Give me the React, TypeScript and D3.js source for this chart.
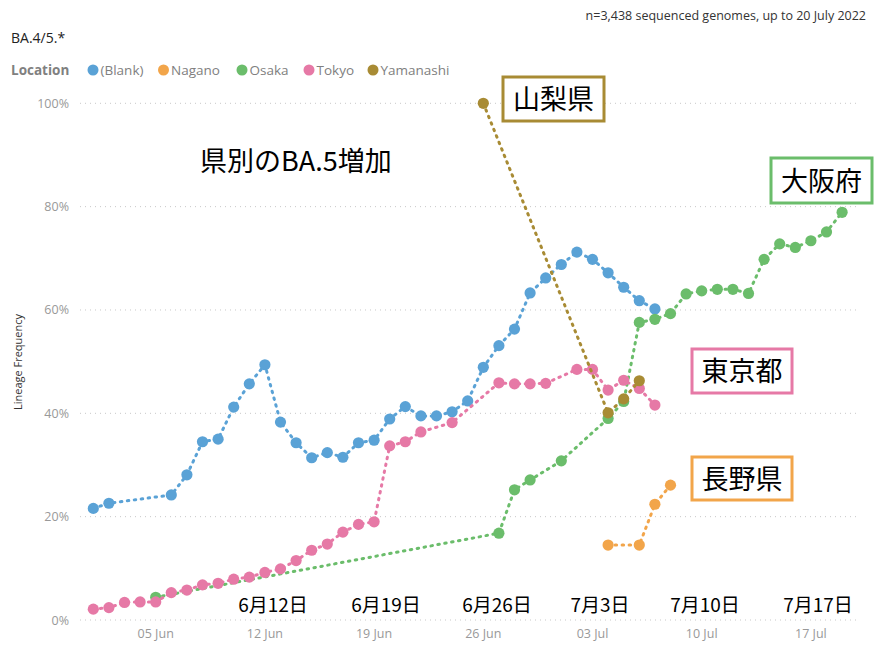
import React from 'react';
import * as d3 from 'd3';

// ---- data ----
const blankDates = ['06-01','06-02','06-06','06-07','06-08','06-09','06-10','06-11','06-12','06-13','06-14','06-15','06-16','06-17','06-18','06-19','06-20','06-21','06-22','06-23','06-24','06-25','06-26','06-27','06-28','06-29','06-30','07-01','07-02','07-03','07-04','07-05','07-06','07-07'];
const blankValues = [21.6,22.6,24.2,28.1,34.5,35.0,41.2,45.7,49.4,38.3,34.3,31.4,32.4,31.5,34.3,34.8,38.9,41.3,39.5,39.5,40.3,42.4,48.9,53.1,56.3,63.3,66.2,68.8,71.2,69.8,67.2,64.4,61.8,60.2];

const naganoDates = ['07-04','07-06','07-07','07-08'];
const naganoValues = [14.5,14.5,22.4,26.1];

const osakaDates = ['06-05','06-27','06-28','06-29','07-01','07-04','07-05','07-06','07-07','07-08','07-09','07-10','07-11','07-12','07-13','07-14','07-15','07-16','07-17','07-18','07-19'];
const osakaValues = [4.4,16.8,25.2,27.1,30.8,39.0,42.3,57.6,58.2,59.3,63.1,63.7,64.0,64.0,63.2,69.8,72.8,72.1,73.4,75.1,78.9];

const tokyoDates = ['06-01','06-02','06-03','06-04','06-05','06-06','06-07','06-08','06-09','06-10','06-11','06-12','06-13','06-14','06-15','06-16','06-17','06-18','06-19','06-20','06-21','06-22','06-24','06-27','06-28','06-29','06-30','07-02','07-03','07-04','07-05','07-06','07-07'];
const tokyoValues = [2.1,2.4,3.4,3.5,3.5,5.3,5.8,6.8,7.1,7.9,8.3,9.2,9.9,11.5,13.5,14.7,17.0,18.5,19.0,33.7,34.5,36.4,38.2,45.9,45.7,45.7,45.8,48.5,48.5,44.5,46.4,44.8,41.6];

const yamanashiDates = ['06-26','07-04','07-05','07-06'];
const yamanashiValues = [100,40.1,42.8,46.3];

const seriesNames = ['(Blank)','Nagano','Osaka','Tokyo','Yamanashi'];
const seriesColors = ['#5aa2d6','#f2a54a','#6bbd6b','#e679a6','#a88b34'];

const xTickDates = ['06-05','06-12','06-19','06-26','07-03','07-10','07-17'];
const yTicks = [0,20,40,60,80,100];

const dateLabels = ['6月12日','6月19日','6月26日','7月3日','7月10日','7月17日'];

const parse = (s: string) => new Date(`2022-${s}T00:00:00`);
const fmt = d3.timeFormat('%d %b');

const W = 889;
const H = 660;

export default function App() {
  const x = d3.scaleTime()
    .domain([parse('06-01'), parse('07-19')])
    .range([93.3, 842.1]);
  const y = d3.scaleLinear().domain([0, 100]).range([620, 103.3]);

  const series = [
    { dates: blankDates, values: blankValues },
    { dates: naganoDates, values: naganoValues },
    { dates: osakaDates, values: osakaValues },
    { dates: tokyoDates, values: tokyoValues },
    { dates: yamanashiDates, values: yamanashiValues },
  ].map((s, i) => ({
    name: seriesNames[i],
    color: seriesColors[i],
    points: s.dates.map((d, j) => ({ date: parse(d), value: s.values[j] })),
  }));

  const line = d3.line<{ date: Date; value: number }>()
    .x(d => x(d.date))
    .y(d => y(d.value));

  const sans = '"Open Sans", "Noto Sans", sans-serif';
  const jp = '"Noto Sans CJK JP", sans-serif';

  // legend layout
  const legendX = [93, 163.5, 242, 309, 373];

  // annotation boxes [label, color, x, y, w, h]
  const boxes: [string, string, number, number, number, number][] = [
    ['山梨県', seriesColors[4], 503, 77, 101, 44],
    ['大阪府', seriesColors[2], 771, 158, 101, 45],
    ['東京都', seriesColors[3], 692, 349, 100, 44],
    ['長野県', seriesColors[1], 692, 457, 100, 43],
  ];
  const dateLabelX = [273, 386, 497, 600, 705, 818];

  return (
    <svg width={W} height={H} style={{ position: 'absolute', left: 0, top: 0, background: '#fff' }}>
      <text x={866} y={20} textAnchor="end" fontFamily={sans} fontSize={12.5} fill="#333">
        n=3,438 sequenced genomes, up to 20 July 2022
      </text>
      <text x={11} y={43} fontFamily={sans} fontSize={14} fill="#222">BA.4/5.*</text>

      <text x={11} y={75} fontFamily={sans} fontSize={13.5} fontWeight="bold" fill="#808080">Location</text>
      {series.map((s, i) => (
        <g key={s.name}>
          <circle cx={legendX[i]} cy={70} r={5.5} fill={s.color} />
          <text x={legendX[i] + 7.5} y={75} fontFamily={sans} fontSize={13.5} fill="#808080">{s.name}</text>
        </g>
      ))}

      {/* grid + y axis */}
      {yTicks.map(t => (
        <g key={t}>
          <line x1={80} x2={860} y1={y(t)} y2={y(t)} stroke="#c8c8c8" strokeWidth={1} strokeDasharray="1 4" />
          <text x={69} y={y(t) + 4.5} textAnchor="end" fontFamily={sans} fontSize={12.5} fill="#999">{t}%</text>
        </g>
      ))}
      <text transform={`translate(22,${362}) rotate(-90)`} textAnchor="middle" fontFamily={sans} fontSize={11} fill="#333">
        Lineage Frequency
      </text>

      {/* x axis */}
      {xTickDates.map(d => (
        <text key={d} x={x(parse(d))} y={638} textAnchor="middle" fontFamily={sans} fontSize={12.5} fill="#999">
          {fmt(parse(d))}
        </text>
      ))}

      {/* series */}
      {series.map(s => (
        <g key={s.name}>
          <path d={line(s.points) ?? ''} fill="none" stroke={s.color} strokeWidth={3}
            strokeDasharray="1.5 5.5" strokeLinecap="round" />
          {s.points.map((p, j) => (
            <circle key={j} cx={x(p.date)} cy={y(p.value)} r={5.6} fill={s.color} />
          ))}
        </g>
      ))}

      {/* annotations */}
      <text x={200} y={171} fontFamily={jp} fontSize={27} fill="#000">県別のBA.5増加</text>
      {boxes.map(([label, color, bx, by, bw, bh]) => (
        <g key={label}>
          <rect x={bx} y={by} width={bw} height={bh} fill="#fff" stroke={color} strokeWidth={3} />
          <text x={bx + bw / 2} y={by + bh / 2 + 10} textAnchor="middle" fontFamily={jp} fontSize={27} fill="#000">{label}</text>
        </g>
      ))}
      {dateLabels.map((l, i) => (
        <text key={l} x={dateLabelX[i]} y={612} textAnchor="middle" fontFamily={jp} fontSize={19} fill="#000">{l}</text>
      ))}
    </svg>
  );
}
